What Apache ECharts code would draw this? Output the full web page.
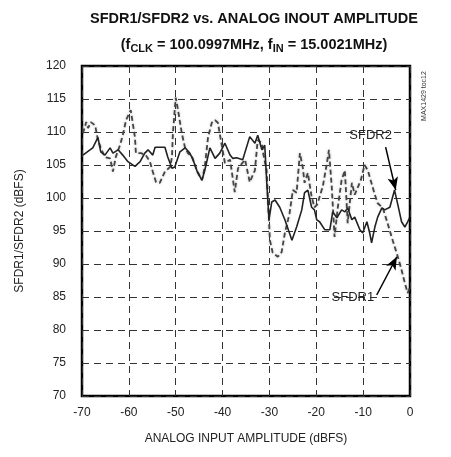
<!DOCTYPE html>
<html>
	<head>
		<meta charset="utf-8">
		<title>SFDR vs amplitude</title>
		<style type="text/css">
			* {
				margin: 0;
				padding: 0;
			}

			html,
			body {
				width: 100%;
				height: 100%;
				background: #fff;
			}

			#box {
				width: 451px;
				height: 457px;
			}
		</style>
	</head>
	<body>
		<div id="box"></div>
		<script src="https://cdn.jsdelivr.net/npm/echarts@6/dist/echarts.min.js"></script>
		<script type="text/javascript">
			// input amplitude (dBFS) / SFDR (dBFS)
			var sfdr2 = [
				[-69.8, 106.5], [-68.3, 107.3], [-67.7, 107.6], [-66.6, 109.2], [-66, 107], [-65.1, 106.5],
				[-64, 107.6], [-63.4, 106.8], [-62.3, 107.3], [-61.3, 106.5], [-60.2, 105.5], [-58.7, 104.8],
				[-57.6, 105.5], [-56.6, 106.8], [-55.9, 107.3], [-54.9, 106.5], [-54.4, 107.7], [-52.3, 107.7],
				[-51.7, 106.2], [-50.8, 104.5], [-50.2, 104.7], [-49.1, 107], [-48, 107.6], [-47, 106.8],
				[-46.3, 105.8], [-45.3, 103.8], [-44.4, 102.7], [-43.8, 104.2], [-42.7, 107.6], [-41.6, 106],
				[-40.6, 106.8], [-39.5, 108.3], [-38.4, 106.5], [-37.8, 106], [-37, 106.1], [-35.7, 105.8],
				[-34.2, 109.3], [-33.1, 108.3], [-32.5, 109.5], [-31.6, 107.3], [-31, 108], [-30.6, 102.7],
				[-30.1, 96.7], [-29.5, 99.4], [-28.8, 99.7], [-27.8, 98.6], [-26.7, 96.7], [-25.2, 93.6],
				[-24.2, 95.6], [-23.1, 98.2], [-22.5, 100.8], [-21.8, 101.2], [-21, 98.6], [-20.4, 98.2],
				[-19.9, 96.7], [-19.3, 96.4], [-18.2, 95.2], [-17.1, 95.2], [-16.5, 97.9], [-15.6, 97],
				[-14.6, 98.2], [-13.9, 97.9], [-13.3, 98.5], [-12.4, 96.7], [-11.8, 97.1], [-10.7, 95.2],
				[-10.1, 94.7], [-9.2, 96.4], [-8.6, 94.7], [-8.2, 93.2], [-7.5, 95.6], [-6.9, 97.1],
				[-6, 98.5], [-5.4, 98.2], [-4.3, 98.6], [-3.3, 101.2], [-2.6, 99], [-1.8, 96.4],
				[-1.1, 95.6], [-0.5, 96.4], [-0.1, 97]
			]

			var sfdr1 = [
				[-69.8, 109.8], [-69.1, 111.5], [-68.7, 110.6], [-68.1, 111.5], [-67.2, 111], [-66.6, 108.8],
				[-66, 107.6], [-65.1, 106.2], [-64, 106], [-63.4, 104], [-62.8, 106.2], [-61.9, 108],
				[-61.3, 109.5], [-60.6, 111.8], [-59.6, 113.3], [-58.7, 109.2], [-58.5, 106.8], [-57.4, 106.8],
				[-56.4, 106.5], [-55.5, 105.5], [-54.9, 104], [-54.2, 102.4], [-53.4, 102.3], [-52.3, 104],
				[-51.2, 104.7], [-50.8, 106.2], [-50.6, 109.8], [-50, 115.2], [-49.5, 113.3], [-48.7, 109.8],
				[-48, 107.6], [-47.4, 106.8], [-46.5, 106.2], [-45.5, 104.2], [-44.4, 102.7], [-43.8, 104.7],
				[-43.1, 109.2], [-42.3, 111.4], [-41.6, 111.8], [-41, 111.4], [-40.1, 107.7], [-39.5, 105.3],
				[-38.4, 105.8], [-37.4, 100.9], [-36.7, 104.5], [-35.2, 105.8], [-34.2, 102.4], [-33.1, 104.2],
				[-32.5, 108.8], [-31.6, 108.3], [-31.4, 107], [-30.6, 104.2], [-29.9, 93.6], [-29.3, 91.7],
				[-28.2, 91.1], [-27.4, 91.8], [-26.7, 94.7], [-25.7, 97.7], [-25, 101.2], [-24.2, 100.8],
				[-23.5, 106.8], [-22.9, 104.7], [-22.5, 102.3], [-21.8, 103.8], [-21, 100.2], [-20.4, 98.6],
				[-19.8, 99], [-18.6, 101.8], [-17.8, 105], [-17.3, 107.3], [-16.7, 101.7], [-16.1, 94.1],
				[-15.4, 98.6], [-14.6, 102.7], [-13.9, 104.2], [-13.3, 96.2], [-12.4, 102.3], [-11.8, 100.5],
				[-11.2, 101.5], [-10.5, 102.7], [-9.7, 105], [-9, 104.2], [-8.4, 102.7], [-7.5, 100.5],
				[-6.9, 99.2], [-5.8, 98.5], [-4.8, 96.2], [-3.7, 93.6], [-2.6, 91.1], [-1.8, 89.1],
				[-1.1, 87.1], [-0.5, 85.6], [-0.1, 86.3]
			]

			var xTicks = [-70, -60, -50, -40, -30, -20, -10, 0]
			var yTicks = [70, 75, 80, 85, 90, 95, 100, 105, 110, 115, 120]

			var myChart = echarts.init(document.getElementById('box'))
			var font = 'Liberation Sans, Arial, sans-serif'
			var gridLine = {
				show: true,
				lineStyle: {
					color: '#333',
					width: 1,
					type: [7, 5]
				}
			}
			// arrow used for the two curve labels
			var arrowLine = {
				silent: true,
				symbol: ['none', 'arrow'],
				symbolSize: [8, 13],
				label: {
					show: false
				},
				lineStyle: {
					color: '#000',
					width: 1.5,
					type: 'solid'
				}
			}

			var option = {
				backgroundColor: '#fff',
				animation: false,
				textStyle: {
					fontFamily: font
				},
				title: {
					left: 249,
					textAlign: 'center',
					top: 6,
					text: 'SFDR1/SFDR2 vs. ANALOG INOUT AMPLITUDE',
					subtext: '{n|(f}{s|CLK}{n| = 100.0997MHz, f}{s|IN}{n| = 15.0021MHz)}',
					itemGap: 10,
					textStyle: {
						fontSize: 14.5,
						fontWeight: 'bold',
						color: '#111',
						fontFamily: font
					},
					subtextStyle: {
						rich: {
							n: {
								fontSize: 14.5,
								fontWeight: 'bold',
								color: '#111',
								fontFamily: font
							},
							s: {
								fontSize: 11,
								fontWeight: 'bold',
								color: '#111',
								fontFamily: font,
								padding: [7, 0, 0, 0]
							}
						}
					}
				},
				grid: {
					left: 82,
					right: 41,
					top: 66,
					bottom: 61,
					show: true,
					borderColor: '#000',
					borderWidth: 2.5,
					backgroundColor: 'transparent'
				},
				xAxis: {
					type: 'value',
					min: xTicks[0],
					max: xTicks[xTicks.length - 1],
					interval: 10,
					name: 'ANALOG INPUT AMPLITUDE (dBFS)',
					nameLocation: 'middle',
					nameGap: 37,
					nameTextStyle: {
						fontSize: 12,
						color: '#222'
					},
					axisLine: {
						show: false
					},
					axisTick: {
						show: false
					},
					axisLabel: {
						fontSize: 12,
						color: '#222',
						margin: 11
					},
					splitLine: gridLine
				},
				yAxis: {
					type: 'value',
					min: yTicks[0],
					max: yTicks[yTicks.length - 1],
					interval: 5,
					name: 'SFDR1/SFDR2 (dBFS)',
					nameLocation: 'middle',
					nameGap: 56,
					nameTextStyle: {
						fontSize: 12,
						color: '#222'
					},
					axisLine: {
						show: false
					},
					axisTick: {
						show: false
					},
					axisLabel: {
						fontSize: 12,
						color: '#222',
						margin: 16
					},
					splitLine: gridLine
				},
				graphic: [{
					type: 'text',
					x: 424,
					y: 96,
					rotation: Math.PI / 2,
					style: {
						text: 'MAX1429 toc12',
						fontSize: 7,
						fill: '#333',
						fontFamily: font,
						align: 'center',
						verticalAlign: 'middle'
					}
				}],
				series: [{
						name: 'SFDR1',
						type: 'line',
						data: sfdr1,
						showSymbol: false,
						z: 3,
						lineStyle: {
							color: '#444',
							width: 1.8,
							type: [5, 3],
							shadowBlur: 3,
							shadowColor: 'rgba(0,0,0,0.25)'
						},
						markPoint: {
							symbol: 'circle',
							symbolSize: 0,
							label: {
								show: true,
								position: 'inside',
								color: '#222',
								fontSize: 13,
								formatter: '{b}'
							},
							data: [{
								name: 'SFDR1',
								coord: [-12.2, 84.9]
							}]
						},
						markLine: Object.assign({}, arrowLine, {
							data: [
								[{
									coord: [-7.1, 85.3]
								}, {
									coord: [-2.8, 91.1]
								}]
							]
						})
					},
					{
						name: 'SFDR2',
						type: 'line',
						data: sfdr2,
						showSymbol: false,
						z: 4,
						lineStyle: {
							color: '#222',
							width: 1.6
						},
						markPoint: {
							symbol: 'circle',
							symbolSize: 0,
							label: {
								show: true,
								position: 'inside',
								color: '#222',
								fontSize: 13,
								formatter: '{b}'
							},
							data: [{
								name: 'SFDR2',
								coord: [-8.4, 109.5]
							}]
						},
						markLine: Object.assign({}, arrowLine, {
							data: [
								[{
									coord: [-5.2, 107.7]
								}, {
									coord: [-3.05, 101.2]
								}]
							]
						})
					}
				]
			}
			myChart.setOption(option)
		</script>
	</body>
</html>
